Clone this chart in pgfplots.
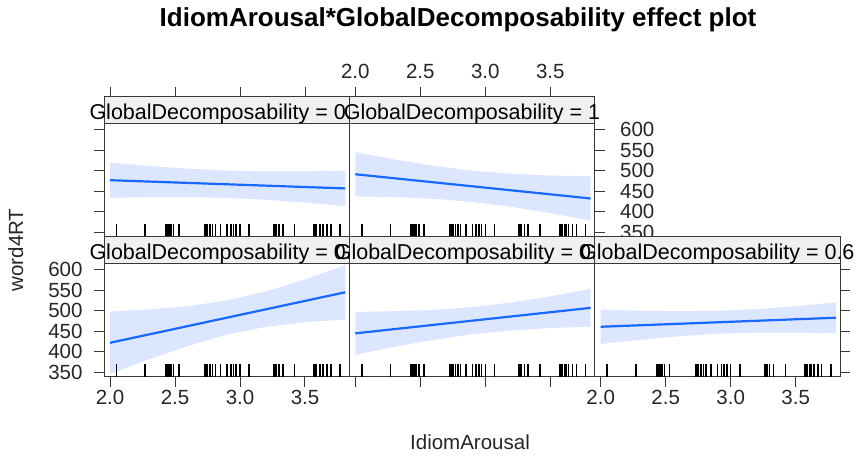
\documentclass[border=0pt]{standalone}
\usepackage{fontspec}
\setmainfont{Liberation Sans}
\usepackage{pgfplots}
\usepackage{pgfplotstable}
\pgfplotsset{compat=1.18}

\definecolor{fitline}{RGB}{25,105,255}
\definecolor{band}{RGB}{220,230,255}
\definecolor{strip}{RGB}{240,240,240}
\definecolor{frame}{RGB}{55,55,55}

% rug: IdiomArousal values of the items (same in every panel)
\pgfplotstableread{
x y
2.05 339.5
2.27 339.5
2.43 339.5
2.44 339.5
2.45 339.5
2.46 339.5
2.47 339.5
2.49 339.5
2.53 339.5
2.73 339.5
2.74 339.5
2.75 339.5
2.77 339.5
2.79 339.5
2.81 339.5
2.85 339.5
2.90 339.5
2.93 339.5
2.95 339.5
2.97 339.5
3.00 339.5
3.07 339.5
3.26 339.5
3.27 339.5
3.28 339.5
3.30 339.5
3.33 339.5
3.42 339.5
3.57 339.5
3.58 339.5
3.59 339.5
3.61 339.5
3.62 339.5
3.64 339.5
3.67 339.5
3.70 339.5
3.77 339.5
}\rug

\pgfplotsset{
  panel/.style={
    scale only axis, width=245.3pt, height=113.4pt,
    anchor=south west,
    xmin=1.9538, xmax=3.8408, ymin=339.5, ymax=615.5,
    axis line style={frame, line width=1pt},
    xtick={2,2.5,3,3.5}, ytick={350,400,...,600},
    tick align=outside, major tick length=10pt,
    tick style={frame, line width=1pt},
    ticklabel style={font=\fontsize{20.5}{22}\selectfont, text=black!85},
    /pgf/number format/assume math mode=true,
    xticklabel style={/pgf/number format/fixed, /pgf/number format/fixed zerofill,
      /pgf/number format/precision=1},
    yticklabel style={/pgf/number format/fixed, /pgf/number format/precision=0},
  },
  noxlabels/.style={xticklabels={,,,}},
  noylabels/.style={yticklabels={,,,,,}},
  % top row: x ticks run up through the strip (which hides their lower part)
  topx/.style={xtick pos=right, major tick length=36.6pt, ytick=\empty},
  rugplot/.style={only marks, mark=|, mark size=6.3pt,
    mark options={yshift=6.3pt, line width=1.5pt, black}},
  fitband/.style={fill=band, draw=none},
  fit/.style={fitline, line width=2.2pt},
}

\begin{document}
\begin{tikzpicture}
\useasboundingbox (0pt,0pt) rectangle (857pt,457pt);

% ---- bottom left
\begin{axis}[panel, at={(104pt,80.3pt)},
  xtick pos=left, ytick pos=left, yticklabel style={xshift=-8pt}]
  % 95% band: upper edge left to right, then lower edge right to left
  \addplot[fitband] coordinates {(2.0,498) (2.3,503) (2.6,511) (2.9,525) (3.2,547) (3.5,576) (3.81,611)
    (3.81,479) (3.5,472) (3.2,461) (2.9,442) (2.6,414) (2.3,382) (2.0,346)} -- cycle;
  \addplot[fit] coordinates {(2.0,422) (3.81,545)};
  \addplot[rugplot] table {\rug};
\end{axis}

% ---- bottom middle
\begin{axis}[panel, at={(349.3pt,80.3pt)},
  xtick pos=left, noxlabels, ytick=\empty]
  \addplot[fitband] coordinates {(2.0,497) (2.3,499) (2.6,502) (2.9,509) (3.2,520) (3.5,535) (3.81,553)
    (3.81,461) (3.5,458) (3.2,452) (2.9,443) (2.6,429) (2.3,412) (2.0,393)} -- cycle;
  \addplot[fit] coordinates {(2.0,445) (3.81,507)};
  \addplot[rugplot] table {\rug};
\end{axis}

% ---- bottom right
\begin{axis}[panel, at={(594.7pt,80.3pt)},
  xtick pos=left, ytick pos=right, noylabels]
  \addplot[fitband] coordinates {(2.0,503) (2.3,500) (2.6,499) (2.9,500) (3.2,504) (3.5,511) (3.81,520.5)
    (3.81,445.5) (3.5,447) (3.2,447) (2.9,444) (2.6,438) (2.3,429) (2.0,419)} -- cycle;
  \addplot[fit] coordinates {(2.0,461) (3.81,483)};
  \addplot[rugplot] table {\rug};
\end{axis}

% ---- top left
\begin{axis}[panel, at={(104pt,220.3pt)}, topx, noxlabels]
  \addplot[fitband] coordinates {(2.0,520) (2.3,511.6) (2.6,504.8) (2.9,500.3) (3.2,498.2) (3.5,498.4) (3.81,500)
    (3.81,414) (3.5,422.6) (3.2,429.4) (2.9,433.9) (2.6,436) (2.3,435.8) (2.0,434)} -- cycle;
  \addplot[fit] coordinates {(2.0,477) (3.81,457)};
  \addplot[rugplot] table {\rug};
\end{axis}
\begin{axis}[panel, at={(104pt,220.3pt)}, xtick=\empty, ytick pos=left, noylabels]
\end{axis}

% ---- top right
\begin{axis}[panel, at={(349.3pt,220.3pt)}, topx,
  xticklabel pos=right, xticklabel style={yshift=4pt}]
  \addplot[fitband] coordinates {(2.0,545.5) (2.3,527.5) (2.6,512) (2.9,500.1) (3.2,492.5) (3.5,488.4) (3.81,486.5)
    (3.81,378.5) (3.5,396.8) (3.2,412.3) (2.9,424.1) (2.6,431.8) (2.3,435.9) (2.0,437.5)} -- cycle;
  \addplot[fit] coordinates {(2.0,491.5) (3.81,432.5)};
  \addplot[rugplot] table {\rug};
\end{axis}
\begin{axis}[panel, at={(349.3pt,220.3pt)}, xtick=\empty,
  ytick pos=right, yticklabel pos=right, yticklabel style={xshift=12pt}]
\end{axis}

% ---- strips, drawn in lattice panel order
\tikzset{striptext/.style={font=\fontsize{21.5}{23}\selectfont, inner sep=0pt, anchor=base}}
\filldraw[fill=strip, draw=frame, line width=1pt] (104pt,193.7pt) rectangle (349.3pt,220.3pt);
\node[striptext] at (226.65pt,197pt) {GlobalDecomposability = 0.2};
\filldraw[fill=strip, draw=frame, line width=1pt] (349.3pt,193.7pt) rectangle (594.7pt,220.3pt);
\node[striptext] at (471.95pt,197pt) {GlobalDecomposability = 0.4};
\filldraw[fill=strip, draw=frame, line width=1pt] (594.7pt,193.7pt) rectangle (840pt,220.3pt);
\node[striptext] at (717.35pt,197pt) {GlobalDecomposability = 0.6};
\filldraw[fill=strip, draw=frame, line width=1pt] (104pt,333.7pt) rectangle (349.3pt,360.3pt);
\node[striptext] at (226.65pt,337pt) {GlobalDecomposability = 0.8};
\filldraw[fill=strip, draw=frame, line width=1pt] (349.3pt,333.7pt) rectangle (594.7pt,360.3pt);
\node[striptext] at (471.95pt,337pt) {GlobalDecomposability = 1};

% ---- labels and title
\node[font=\fontsize{20.5}{22}\selectfont, text=black!85, anchor=base] at (470pt,7.7pt) {IdiomArousal};
\node[font=\fontsize{20.5}{22}\selectfont, text=black!85, anchor=base, rotate=90] at (23pt,207pt) {word4RT};
\node[font=\fontsize{26}{28}\selectfont\bfseries, anchor=base] at (458pt,430pt) {IdiomArousal*GlobalDecomposability effect plot};
\end{tikzpicture}
\end{document}
